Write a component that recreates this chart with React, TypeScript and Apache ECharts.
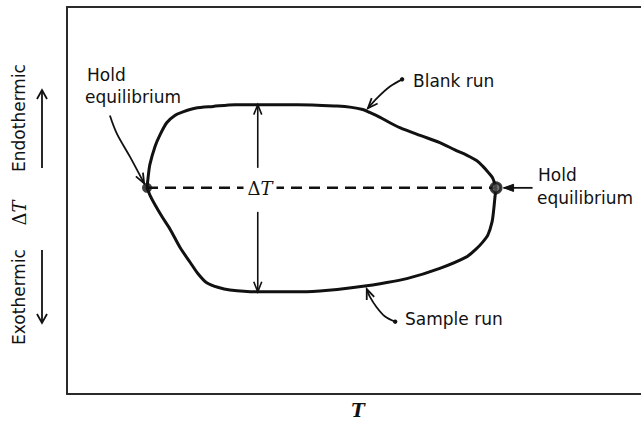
import React, { useEffect, useRef } from "react";
import * as echarts from "echarts";

// Blank run: temperature T and differential signal ΔT (upper branch of the loop)
const blankT = [13.8, 14.0, 14.3, 15.2, 16.0, 17.2, 18.6, 20.0, 22.1, 25.2, 29.0, 32.9, 39.7, 46.6, 49.1, 51.0, 52.2, 54.0, 55.7, 57.4, 60.9, 64.3, 66.9, 69.0, 70.7, 71.7, 72.8, 73.4, 74.0];
const blankDT = [0, 0.6, 1.3, 2.3, 2.9, 3.6, 4.0, 4.2, 4.4, 4.5, 4.6, 4.6, 4.6, 4.52, 4.45, 4.33, 4.17, 3.9, 3.6, 3.33, 2.9, 2.5, 2.1, 1.8, 1.5, 1.2, 0.8, 0.55, 0];

// Sample run: lower branch of the loop
const sampleT = [13.8, 14.3, 15.2, 16.4, 17.8, 19.5, 21.2, 22.6, 24.1, 26.0, 28.1, 32.9, 39.7, 43.6, 46.6, 51.7, 54.0, 58.6, 64.3, 69.0, 70.5, 71.7, 72.6, 73.3, 73.6, 73.8, 74.0];
const sampleDT = [0, -0.4, -0.95, -1.6, -2.3, -3.3, -4.1, -4.75, -5.25, -5.5, -5.65, -5.75, -5.75, -5.7, -5.62, -5.42, -5.3, -5.02, -4.45, -3.8, -3.4, -3.0, -2.6, -1.9, -1.2, -0.55, 0];

// Hold-equilibrium points (both runs meet on the baseline)
const holdT = [13.8, 74.0];
const holdDT = [0, 0];

// Temperature at which the ΔT span is marked
const spanT = 32.9;

// Leader lines from the callouts to the curve, in (T, ΔT)
const leaderLeftHold = [[7.4, 4.0], [8.6, 3.0], [10.9, 1.7], [13.3, 0.25]];
const leaderBlank = [[57.8, 6.0], [55.7, 5.6], [53.6, 5.0], [51.9, 4.4]];
const leaderSample = [[56.6, -7.4], [54.8, -7.1], [53.4, -6.6], [52.2, -6.0], [51.7, -5.6]];
const leaderRightHold = [[80.3, 0], [75.3, 0]];

const INK = "#111";
const FRAME = "#2a2a2a";
const SANS = "DejaVu Sans";
const SERIF = "DejaVu Serif";

function arrowHead(tip: number[], from: number[], len: number, half: number) {
  const dx = tip[0] - from[0];
  const dy = tip[1] - from[1];
  const d = Math.hypot(dx, dy) || 1;
  const ux = dx / d;
  const uy = dy / d;
  const nx = -uy;
  const ny = ux;
  return [
    [tip[0] - ux * len + nx * half, tip[1] - uy * len + ny * half],
    [tip[0], tip[1]],
    [tip[0] - ux * len - nx * half, tip[1] - uy * len - ny * half],
  ];
}

const hiddenAxisParts = {
  axisTick: { show: false },
  axisLabel: { show: false },
  splitLine: { show: false },
};

export default function App() {
  const ref = useRef<HTMLDivElement>(null);

  useEffect(() => {
    if (!ref.current) return;
    const chart = echarts.init(ref.current, undefined, { renderer: "svg" });

    const leaders = [leaderLeftHold, leaderBlank, leaderSample, leaderRightHold];
    const iSpanTop = blankT.indexOf(spanT);
    const iSpanBot = sampleT.indexOf(spanT);
    const frameLine = { show: true, onZero: false, lineStyle: { color: FRAME, width: 2 } };

    const option: any = {
      animation: false,
      backgroundColor: "#fff",
      grid: {
        left: 67,
        top: 7,
        right: 0,
        height: 387,
        outerBoundsMode: "none",
      },
      xAxis: [
        { type: "value", min: 0, max: 99, position: "bottom", axisLine: frameLine, ...hiddenAxisParts },
        { type: "value", min: 0, max: 99, position: "top", axisLine: frameLine, ...hiddenAxisParts },
      ],
      yAxis: {
        type: "value",
        min: -11.4,
        max: 10,
        position: "left",
        axisLine: frameLine,
        ...hiddenAxisParts,
      },
      series: [
        {
          name: "baseline",
          type: "line",
          z: 1,
          silent: true,
          symbol: "none",
          data: holdT.map((t, i) => [t, holdDT[i]]),
          lineStyle: { color: INK, width: 2.5, type: [11, 7] },
        },
        {
          name: "Blank run",
          type: "line",
          z: 2,
          silent: true,
          symbol: "none",
          smooth: 0.3,
          data: blankT.map((t, i) => [t, blankDT[i]]),
          lineStyle: { color: INK, width: 3 },
        },
        {
          name: "Sample run",
          type: "line",
          z: 2,
          silent: true,
          symbol: "none",
          smooth: 0.3,
          data: sampleT.map((t, i) => [t, sampleDT[i]]),
          lineStyle: { color: INK, width: 3 },
        },
        {
          name: "Hold equilibrium",
          type: "scatter",
          z: 3,
          silent: true,
          symbol: "circle",
          data: [
            { value: [holdT[0], holdDT[0]], symbolSize: 10, itemStyle: { color: INK } },
            { value: [holdT[1], holdDT[1]], symbolSize: 10, itemStyle: { color: "#555", borderColor: INK, borderWidth: 3 } },
          ],
        },
        {
          name: "ΔT span",
          type: "custom",
          z: 4,
          silent: true,
          data: [[spanT, blankDT[iSpanTop], sampleDT[iSpanBot]]],
          renderItem: (params: any, api: any) => {
            const x = api.value(0);
            const top = api.coord([x, api.value(1)]);
            const bot = api.coord([x, api.value(2)]);
            const mid = api.coord([x, 0]);
            const upEnd = [mid[0], mid[1] - 20];
            const downStart = [mid[0], mid[1] + 24];
            const style = { stroke: INK, lineWidth: 1.6, fill: null };
            return {
              type: "group",
              children: [
                { type: "line", shape: { x1: top[0], y1: top[1], x2: upEnd[0], y2: upEnd[1] }, style },
                { type: "line", shape: { x1: downStart[0], y1: downStart[1], x2: bot[0], y2: bot[1] }, style },
                { type: "polyline", shape: { points: arrowHead(top, upEnd, 10, 4) }, style },
                { type: "polyline", shape: { points: arrowHead(bot, downStart, 10, 4) }, style },
              ],
            };
          },
        },
        {
          name: "leaders",
          type: "custom",
          z: 4,
          silent: true,
          clip: false,
          data: leaders.map((l) => l[l.length - 1]),
          renderItem: (params: any, api: any) => {
            const idx = params.dataIndex;
            const pts = leaders[idx].map((p) => api.coord(p));
            const tip = pts[pts.length - 1];
            const prev = pts[pts.length - 2];
            const style = { stroke: INK, lineWidth: 1.8, fill: null };
            const children: any[] = [
              { type: "polyline", shape: { points: pts, smooth: 0.35 }, style },
            ];
            if (idx === 3) {
              children.push({
                type: "polygon",
                shape: { points: arrowHead(tip, prev, 10, 3.6) },
                style: { fill: INK, stroke: INK, lineWidth: 1 },
              });
            } else {
              children.push({ type: "polyline", shape: { points: arrowHead(tip, prev, 10, 4) }, style });
            }
            if (idx === 1 || idx === 2) {
              children.push({
                type: "circle",
                shape: { cx: pts[0][0], cy: pts[0][1], r: 2.2 },
                style: { fill: INK },
              });
            }
            return { type: "group", children };
          },
        },
      ],
      graphic: [
        // Callout texts
        { type: "text", z: 100, left: 87, top: 66, style: { text: "Hold", font: `17px ${SANS}`, fill: INK } },
        { type: "text", z: 100, left: 85, top: 88, style: { text: "equilibrium", font: `17px ${SANS}`, fill: INK } },
        { type: "text", z: 100, left: 538, top: 166, style: { text: "Hold", font: `17px ${SANS}`, fill: INK } },
        { type: "text", z: 100, left: 537, top: 189, style: { text: "equilibrium", font: `17px ${SANS}`, fill: INK } },
        { type: "text", z: 100, left: 413, top: 72, style: { text: "Blank run", font: `17px ${SANS}`, fill: INK } },
        { type: "text", z: 100, left: 405, top: 310, style: { text: "Sample run", font: `17px ${SANS}`, fill: INK } },
        // ΔT label across the span
        {
          type: "text",
          z: 100,
          x: 260,
          y: 188,
          style: {
            text: "{d|Δ}{t|T}",
            align: "center",
            verticalAlign: "middle",
            backgroundColor: "#fff",
            padding: [0, 4],
            rich: {
              d: { font: `18px ${SERIF}`, fill: INK },
              t: { font: `italic 18px ${SERIF}`, fill: INK },
            },
          },
        },
        // x-axis title
        {
          type: "text",
          z: 100,
          x: 358,
          y: 410,
          style: { text: "T", align: "center", verticalAlign: "middle", font: `italic bold 18px ${SERIF}`, fill: INK },
        },
        // y-axis titles (rotated)
        {
          type: "text", z: 100, x: 19, y: 118, rotation: Math.PI / 2,
          style: { text: "Endothermic", align: "center", verticalAlign: "middle", font: `17px ${SANS}`, fill: INK },
        },
        {
          type: "text", z: 100, x: 19, y: 213, rotation: Math.PI / 2,
          style: {
            text: "{d|Δ}{t|T}", align: "center", verticalAlign: "middle",
            rich: { d: { font: `18px ${SERIF}`, fill: INK }, t: { font: `italic 18px ${SERIF}`, fill: INK } },
          },
        },
        {
          type: "text", z: 100, x: 19, y: 297, rotation: Math.PI / 2,
          style: { text: "Exothermic", align: "center", verticalAlign: "middle", font: `17px ${SANS}`, fill: INK },
        },
        // direction arrows beside the y titles
        { type: "line", z: 100, shape: { x1: 42, y1: 168, x2: 42, y2: 90 }, style: { stroke: INK, lineWidth: 1.8 } },
        { type: "polyline", z: 100, shape: { points: [[37, 99], [42, 90], [47, 99]] }, style: { stroke: INK, lineWidth: 1.8, fill: null } },
        { type: "line", z: 100, shape: { x1: 42, y1: 250, x2: 42, y2: 323 }, style: { stroke: INK, lineWidth: 1.8 } },
        { type: "polyline", z: 100, shape: { points: [[37, 314], [42, 323], [47, 314]] }, style: { stroke: INK, lineWidth: 1.8, fill: null } },
      ],
    };

    chart.setOption(option);
    return () => chart.dispose();
  }, []);

  return (
    <div
      ref={ref}
      style={{ position: "absolute", left: 0, top: 0, width: 641, height: 422, background: "#fff" }}
    />
  );
}
